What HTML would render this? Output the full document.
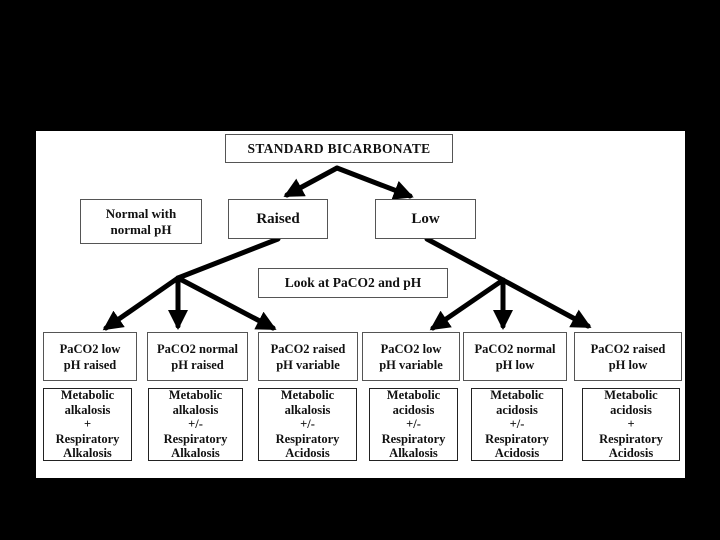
<!DOCTYPE html>
<html><head><style>
body{margin:0;width:720px;height:540px;background:#000;position:relative;overflow:hidden;font-family:"Liberation Serif",serif;font-weight:bold;}
#w{position:absolute;left:36px;top:131px;width:649px;height:347px;background:#fff;}
.b{position:absolute;border:1px solid #555;box-sizing:border-box;display:flex;align-items:center;justify-content:center;text-align:center;color:#111;background:#fff;}
.r1{top:332px;height:49px;font-size:12.5px;line-height:16px;}
.r2{top:388px;height:73px;font-size:12.5px;line-height:14.5px;border:1.5px solid #222;}
svg{position:absolute;left:0;top:0;}
</style></head><body>
<div id="w"></div>
<svg width="720" height="540">
<defs><marker id="a" markerWidth="4" markerHeight="4" refX="3.2" refY="2" orient="auto" markerUnits="strokeWidth"><path d="M0,0 L4,2 L0,4 z" fill="#000"/></marker></defs>
<g stroke="#000" stroke-width="5" fill="none" stroke-linecap="round">
<polyline points="282,198 337,168 415,198" stroke="none"/>
<line x1="337" y1="168" x2="287" y2="195" marker-end="url(#a)"/>
<line x1="337" y1="168" x2="410" y2="196" marker-end="url(#a)"/>
<line x1="278" y1="239" x2="178" y2="278"/>
<line x1="178" y1="278" x2="106" y2="328" marker-end="url(#a)"/>
<line x1="178" y1="278" x2="178" y2="326" marker-end="url(#a)"/>
<line x1="178" y1="278" x2="273" y2="328" marker-end="url(#a)"/>
<line x1="427" y1="239" x2="588" y2="326" marker-end="url(#a)"/>
<line x1="503" y1="280" x2="433" y2="328" marker-end="url(#a)"/>
<line x1="503" y1="280" x2="503" y2="326" marker-end="url(#a)"/>
</g>
</svg>
<div class="b" style="left:225px;top:134px;width:228px;height:29px;font-size:13.5px;letter-spacing:0.3px">STANDARD BICARBONATE</div>
<div class="b" style="left:80px;top:199px;width:122px;height:45px;font-size:13px;line-height:16px">Normal with<br>normal pH</div>
<div class="b" style="left:228px;top:199px;width:100px;height:40px;font-size:15px">Raised</div>
<div class="b" style="left:375px;top:199px;width:101px;height:40px;font-size:15px">Low</div>
<div class="b" style="left:258px;top:268px;width:190px;height:30px;font-size:13.5px">Look at PaCO2 and pH</div>
<div class="b r1" style="left:43px;width:94px">PaCO2 low<br>pH raised</div>
<div class="b r1" style="left:147px;width:101px">PaCO2 normal<br>pH raised</div>
<div class="b r1" style="left:258px;width:100px">PaCO2 raised<br>pH variable</div>
<div class="b r1" style="left:362px;width:98px">PaCO2 low<br>pH variable</div>
<div class="b r1" style="left:463px;width:104px">PaCO2 normal<br>pH low</div>
<div class="b r1" style="left:574px;width:108px">PaCO2 raised<br>pH low</div>
<div class="b r2" style="left:43px;width:89px">Metabolic<br>alkalosis<br>+<br>Respiratory<br>Alkalosis</div>
<div class="b r2" style="left:148px;width:95px">Metabolic<br>alkalosis<br>+/-<br>Respiratory<br>Alkalosis</div>
<div class="b r2" style="left:258px;width:99px">Metabolic<br>alkalosis<br>+/-<br>Respiratory<br>Acidosis</div>
<div class="b r2" style="left:369px;width:89px">Metabolic<br>acidosis<br>+/-<br>Respiratory<br>Alkalosis</div>
<div class="b r2" style="left:471px;width:92px">Metabolic<br>acidosis<br>+/-<br>Respiratory<br>Acidosis</div>
<div class="b r2" style="left:582px;width:98px">Metabolic<br>acidosis<br>+<br>Respiratory<br>Acidosis</div>
</body></html>
